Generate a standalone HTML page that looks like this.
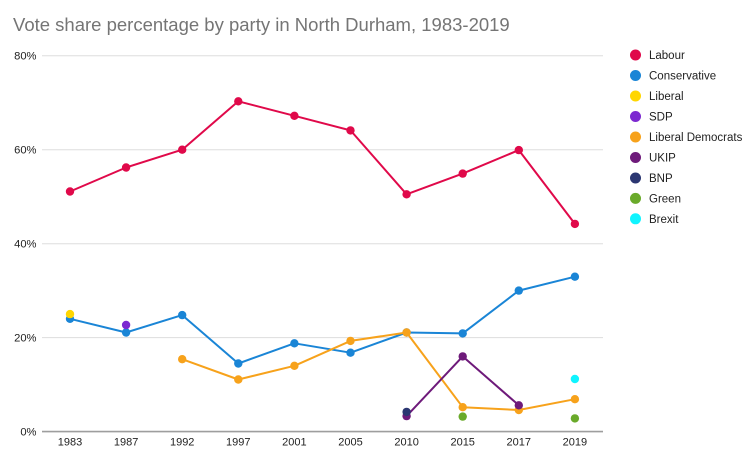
<!DOCTYPE html>
<html>
<head>
<meta charset="utf-8">
<style>
  html, body { margin: 0; padding: 0; background: #fff; }
  svg { display: block; }
  text { font-family: "Liberation Sans", Arial, sans-serif; }
</style>
</head>
<body>
<svg width="751" height="459" viewBox="0 0 751 459" xmlns="http://www.w3.org/2000/svg">
  <rect width="751" height="459" fill="#fff"/>
  <!-- Title -->
  <text x="13" y="31" font-size="18.5" fill="#757575">Vote share percentage by party in North Durham, 1983-2019</text>

  <!-- Gridlines -->
  <g stroke="#dddddd" stroke-width="1">
    <line x1="42" y1="55.7" x2="603" y2="55.7"/>
    <line x1="42" y1="149.7" x2="603" y2="149.7"/>
    <line x1="42" y1="243.7" x2="603" y2="243.7"/>
    <line x1="42" y1="337.6" x2="603" y2="337.6"/>
  </g>
  <line x1="42" y1="431.6" x2="603" y2="431.6" stroke="#9e9e9e" stroke-width="1.6"/>

  <!-- Y labels -->
  <g font-size="11.2" fill="#222" text-anchor="end">
    <text x="36.5" y="59.6">80%</text>
    <text x="36.5" y="153.6">60%</text>
    <text x="36.5" y="247.6">40%</text>
    <text x="36.5" y="341.5">20%</text>
    <text x="36.5" y="435.5">0%</text>
  </g>

  <!-- X labels -->
  <g font-size="11" fill="#222" text-anchor="middle">
    <text x="70" y="445.7">1983</text>
    <text x="126.1" y="445.7">1987</text>
    <text x="182.2" y="445.7">1992</text>
    <text x="238.3" y="445.7">1997</text>
    <text x="294.4" y="445.7">2001</text>
    <text x="350.5" y="445.7">2005</text>
    <text x="406.6" y="445.7">2010</text>
    <text x="462.7" y="445.7">2015</text>
    <text x="518.8" y="445.7">2017</text>
    <text x="574.9" y="445.7">2019</text>
  </g>

  <!-- Labour -->
  <polyline fill="none" stroke="#e0094a" stroke-width="2" stroke-linejoin="round"
    points="70,191.5 126.1,167.5 182.2,149.7 238.3,101.3 294.4,115.8 350.5,130.4 406.6,194.3 462.7,173.6 518.8,150.1 574.9,223.9"/>
  <g fill="#e0094a">
    <circle cx="70" cy="191.5" r="4.2"/>
    <circle cx="126.1" cy="167.5" r="4.2"/>
    <circle cx="182.2" cy="149.7" r="4.2"/>
    <circle cx="238.3" cy="101.3" r="4.2"/>
    <circle cx="294.4" cy="115.8" r="4.2"/>
    <circle cx="350.5" cy="130.4" r="4.2"/>
    <circle cx="406.6" cy="194.3" r="4.2"/>
    <circle cx="462.7" cy="173.6" r="4.2"/>
    <circle cx="518.8" cy="150.1" r="4.2"/>
    <circle cx="574.9" cy="223.9" r="4.2"/>
  </g>

  <!-- Conservative -->
  <polyline fill="none" stroke="#1a85d6" stroke-width="2" stroke-linejoin="round"
    points="70,318.8 126.1,332.5 182.2,315.1 238.3,363.5 294.4,343.3 350.5,352.7 406.6,332.5 462.7,333.4 518.8,290.6 574.9,276.7"/>
  <g fill="#1a85d6">
    <circle cx="70" cy="318.8" r="4.2"/>
    <circle cx="126.1" cy="332.5" r="4.2"/>
    <circle cx="182.2" cy="315.1" r="4.2"/>
    <circle cx="238.3" cy="363.5" r="4.2"/>
    <circle cx="294.4" cy="343.3" r="4.2"/>
    <circle cx="350.5" cy="352.7" r="4.2"/>
    <circle cx="406.6" cy="332.5" r="4.2"/>
    <circle cx="462.7" cy="333.4" r="4.2"/>
    <circle cx="518.8" cy="290.6" r="4.2"/>
    <circle cx="574.9" cy="276.7" r="4.2"/>
  </g>

  <!-- Liberal -->
  <circle cx="70" cy="314.1" r="4.2" fill="#ffd600"/>
  <!-- SDP -->
  <circle cx="126.1" cy="325" r="4.2" fill="#7c29d0"/>

  <!-- Liberal Democrats -->
  <polyline fill="none" stroke="#f7a21b" stroke-width="2" stroke-linejoin="round"
    points="182.2,359.2 238.3,379.5 294.4,365.8 350.5,340.9 406.6,332.5 462.7,407.2 518.8,410 574.9,399.2"/>
  <g fill="#f7a21b">
    <circle cx="182.2" cy="359.2" r="4.2"/>
    <circle cx="238.3" cy="379.5" r="4.2"/>
    <circle cx="294.4" cy="365.8" r="4.2"/>
    <circle cx="350.5" cy="340.9" r="4.2"/>
    <circle cx="406.6" cy="332.5" r="4.2"/>
    <circle cx="462.7" cy="407.2" r="4.2"/>
    <circle cx="518.8" cy="410" r="4.2"/>
    <circle cx="574.9" cy="399.2" r="4.2"/>
  </g>

  <!-- UKIP -->
  <polyline fill="none" stroke="#6e1a7a" stroke-width="2" stroke-linejoin="round"
    points="406.6,416.1 462.7,356.4 518.8,405.3"/>
  <g fill="#6e1a7a">
    <circle cx="406.6" cy="416.1" r="4.2"/>
    <circle cx="462.7" cy="356.4" r="4.2"/>
    <circle cx="518.8" cy="405.3" r="4.2"/>
  </g>

  <!-- BNP -->
  <circle cx="406.6" cy="411.9" r="4.2" fill="#2b3671"/>
  <!-- Green -->
  <circle cx="462.7" cy="416.6" r="4.2" fill="#6aaa2a"/>
  <circle cx="574.9" cy="418.4" r="4.2" fill="#6aaa2a"/>
  <!-- Brexit -->
  <circle cx="574.9" cy="379" r="4.2" fill="#10f4ff"/>

  <!-- Legend -->
  <g font-size="11.5" fill="#222">
    <circle cx="635.5" cy="55" r="5.5" fill="#e0094a"/>
    <text x="649" y="59.1">Labour</text>
    <circle cx="635.5" cy="75.5" r="5.5" fill="#1a85d6"/>
    <text x="649" y="79.6">Conservative</text>
    <circle cx="635.5" cy="96" r="5.5" fill="#ffd600"/>
    <text x="649" y="100.1">Liberal</text>
    <circle cx="635.5" cy="116.5" r="5.5" fill="#7c29d0"/>
    <text x="649" y="120.6">SDP</text>
    <circle cx="635.5" cy="137" r="5.5" fill="#f7a21b"/>
    <text x="649" y="141.1">Liberal Democrats</text>
    <circle cx="635.5" cy="157.5" r="5.5" fill="#6e1a7a"/>
    <text x="649" y="161.6">UKIP</text>
    <circle cx="635.5" cy="178" r="5.5" fill="#2b3671"/>
    <text x="649" y="182.1">BNP</text>
    <circle cx="635.5" cy="198.4" r="5.5" fill="#6aaa2a"/>
    <text x="649" y="202.5">Green</text>
    <circle cx="635.5" cy="218.8" r="5.5" fill="#10f4ff"/>
    <text x="649" y="222.9">Brexit</text>
  </g>
</svg>
</body>
</html>
